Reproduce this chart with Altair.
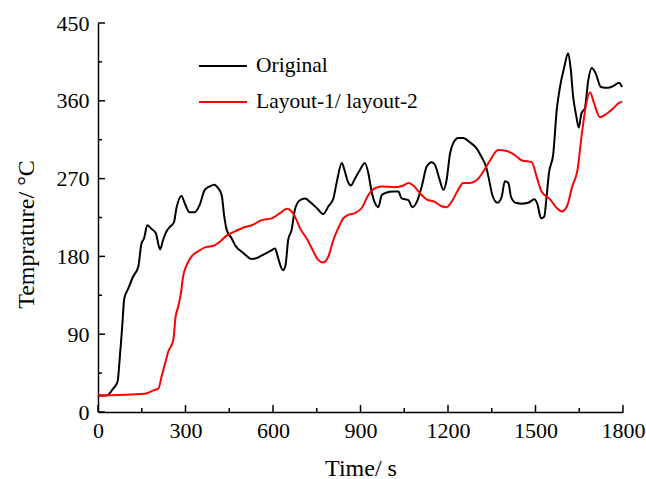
import altair as alt
import pandas as pd

orig_t = [0,30,52,67,75,83,90,104,121,138,149,158,169,183,198,213,223,235,246,260,269,286,299,314,331,349,366,383,398,412,424,433,441,458,470,498,527,544,567,590,607,616,627,635,643,652,664,675,692,710,727,750,772,790,807,818,836,845,856,867,881,898,915,927,938,952,961,973,990,1012,1030,1041,1064,1078,1093,1110,1127,1144,1155,1172,1184,1195,1207,1218,1235,1252,1275,1298,1315,1332,1340,1352,1370,1384,1395,1407,1416,1432,1453,1475,1496,1507,1519,1530,1538,1546,1561,1573,1584,1598,1612,1621,1629,1640,1648,1658,1669,1681,1693,1706,1724,1749,1772,1786,1797]
orig_T = [19,19,27,35,64,99,131,143,157,168,195,201,216,212,207,188,199,209,214,219,236,250,240,231,231,240,257,261,263,259,251,226,211,201,193,184,177,178,182,186,189,180,168,164,170,199,211,234,245,247,243,236,229,238,247,265,288,280,267,262,270,280,288,276,255,240,237,251,254,255,255,247,245,237,243,261,284,289,286,268,257,268,299,311,317,317,312,305,295,282,270,251,242,249,267,265,249,242,241,242,246,240,224,226,249,276,299,350,376,398,415,396,365,342,329,346,351,384,398,392,376,375,378,381,376]

lay_t = [0,161,190,207,218,230,241,258,266,275,284,292,304,321,344,372,395,418,441,470,504,527,561,596,624,647,664,678,692,715,738,755,772,790,807,824,841,858,881,904,927,950,973,1018,1047,1064,1081,1104,1127,1155,1178,1195,1212,1235,1252,1275,1298,1321,1344,1372,1401,1430,1453,1487,1504,1521,1550,1573,1590,1608,1626,1644,1658,1672,1687,1701,1721,1744,1766,1784,1797]
lay_T = [19,21,25,27,41,56,70,83,110,122,137,157,170,180,186,191,192,197,204,209,214,216,222,224,230,235,232,224,213,201,186,176,173,180,199,213,224,228,230,236,251,259,261,260,262,265,262,253,246,243,238,237,243,257,265,265,268,278,291,303,302,297,291,289,272,255,246,236,232,238,261,280,319,353,370,357,341,345,351,357,359]

series_names = ["Original", "Layout-1/ layout-2"]
series_colors = ["#000000", "#ff0000"]

x_major = [0, 300, 600, 900, 1200, 1500, 1800]
x_minor = [150, 450, 750, 1050, 1350, 1650]
y_major = [0, 90, 180, 270, 360, 450]
y_minor = [45, 135, 225, 315, 405]

FONT = "Liberation Serif"

df = pd.concat([
    pd.DataFrame({"t": orig_t, "T": orig_T, "s": series_names[0]}),
    pd.DataFrame({"t": lay_t, "T": lay_T, "s": series_names[1]}),
])

xs = alt.Scale(domain=[0, 1800], nice=False, zero=False)
ys = alt.Scale(domain=[0, 450], nice=False, zero=False)

lines = alt.Chart(df).mark_line(strokeWidth=2, interpolate="monotone").encode(
    x=alt.X("t:Q", scale=xs, axis=alt.Axis(
        title="Time/ s", values=x_major, format="d", tickSize=0, labelPadding=8,
        titleY=63, titleBaseline="alphabetic", labelFlush=False)),
    y=alt.Y("T:Q", scale=ys, axis=alt.Axis(
        title="Temprature/ °C", values=y_major, format="d", tickSize=0, labelPadding=9,
        titleX=-65, titleY=211, titleBaseline="alphabetic", titleAngle=270, titleAlign="center")),
    color=alt.Color("s:N", scale=alt.Scale(domain=series_names, range=series_colors),
                    legend=alt.Legend(title=None, orient="none", legendX=100, legendY=18,
                                      symbolType="stroke", symbolSize=2304, symbolStrokeWidth=2,
                                      labelFont=FONT, labelFontSize=21.5, labelColor="black",
                                      labelLimit=0, rowPadding=-5, labelOffset=8, padding=0)),
)

yt_major = alt.Chart(pd.DataFrame({"v": y_major})).mark_rule(color="black", strokeWidth=1.5).encode(
    y=alt.Y("v:Q", scale=ys), x=alt.value(0), x2=alt.value(7))
yt_minor = alt.Chart(pd.DataFrame({"v": y_minor})).mark_rule(color="black", strokeWidth=1.5).encode(
    y=alt.Y("v:Q", scale=ys), x=alt.value(0), x2=alt.value(4))
xt_major = alt.Chart(pd.DataFrame({"v": x_major})).mark_rule(color="black", strokeWidth=1.5).encode(
    x=alt.X("v:Q", scale=xs), y=alt.value(389), y2=alt.value(382))
xt_minor = alt.Chart(pd.DataFrame({"v": x_minor})).mark_rule(color="black", strokeWidth=1.5).encode(
    x=alt.X("v:Q", scale=xs), y=alt.value(389), y2=alt.value(385))

chart = alt.layer(lines, yt_major, yt_minor, xt_major, xt_minor).properties(
    width=525, height=389,
    padding={"left": 98, "top": 23, "right": 23, "bottom": 67},
    autosize=alt.AutoSizeParams(type="none"),
    background="white",
).configure_view(stroke=None).configure_axis(
    domainColor="black", domainWidth=1.5, grid=False,
    labelFont=FONT, labelFontSize=22, labelColor="black",
    titleFont=FONT, titleFontSize=24, titleFontWeight="normal", titleColor="black",
)

chart.save("out.html", embed_options={"renderer": "svg", "actions": False})
